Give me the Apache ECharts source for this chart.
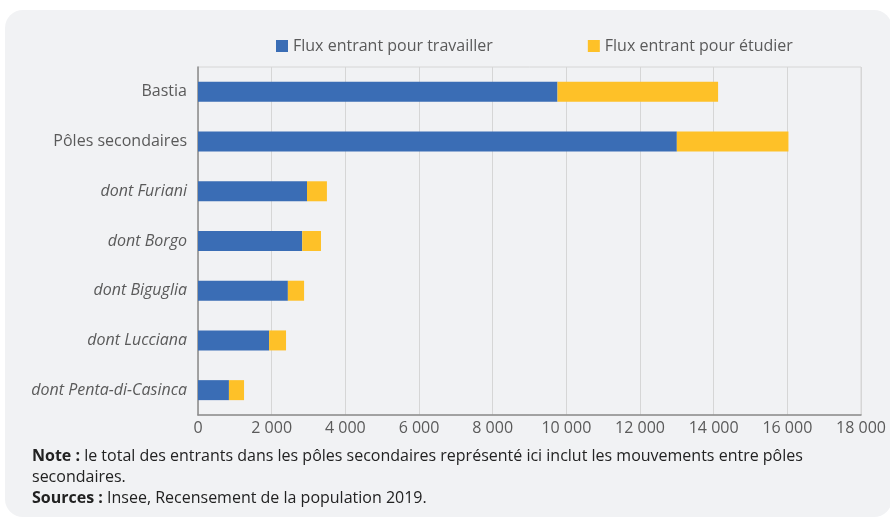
<!DOCTYPE html>
<html><head><meta charset="utf-8">
<script src="https://cdn.jsdelivr.net/npm/echarts@6/dist/echarts.min.js"></script>
<style>
html,body{margin:0;padding:0;background:#fff;width:890px;height:520px;overflow:hidden;}
#card{position:absolute;left:5px;top:10px;width:887px;height:507px;background:#f1f2f4;border-radius:18px;}
#c{position:absolute;left:0;top:0;width:890px;height:520px;}
</style></head>
<body><div id="card"></div><div id="c"></div>
<script>
const categories = ['Bastia','Pôles secondaires','dont Furiani','dont Borgo','dont Biguglia','dont Lucciana','dont Penta-di-Casinca'];
const travailler = [9760, 13000, 2960, 2830, 2440, 1930, 840];
const etudier = [4360, 3030, 540, 510, 440, 460, 410];
const seriesNames = ['Flux entrant pour travailler','Flux entrant pour étudier'];
const xTicks = [0,2000,4000,6000,8000,10000,12000,14000,16000,18000];

const fmt = v => String(v).replace(/\B(?=(\d{3})+(?!\d))/g, ' ');
const font = '"Open Sans", sans-serif';
const chart = echarts.init(document.getElementById('c'));
chart.setOption({
  backgroundColor: 'transparent',
  textStyle: {fontFamily: font},
  legend: {
    top: 33, left: 271, itemWidth: 12, itemHeight: 12, itemGap: 95,
    icon: 'rect',
    textStyle: {color: '#5a5a5a', fontSize: 16, fontFamily: font},
    data: seriesNames
  },
  grid: {left: 198, right: 29, top: 67, bottom: 105, show: true, borderColor: '#d6d6d6', borderWidth: 1, backgroundColor: 'transparent'},
  xAxis: {
    type: 'value', min: xTicks[0], max: xTicks[xTicks.length-1], interval: 2000,
    axisLine: {show: true, lineStyle: {color: '#8c8c8c', width: 1.5}},
    axisTick: {show: false},
    splitLine: {show: true, lineStyle: {color: '#d6d6d6', width: 1}},
    axisLabel: {color: '#5a5a5a', fontSize: 16, fontFamily: font, margin: 5, formatter: v => fmt(v)}
  },
  yAxis: {
    type: 'category', inverse: true,
    data: categories.map(c => c.startsWith('dont') ? {value: c, textStyle: {fontStyle: 'italic'}} : c),
    axisLine: {show: true, lineStyle: {color: '#8c8c8c', width: 1.5}},
    axisTick: {show: false},
    axisLabel: {color: '#5a5a5a', fontSize: 16, fontFamily: font, margin: 11}
  },
  series: [
    {name: seriesNames[0], type: 'bar', stack: 't', data: travailler, barWidth: 20, itemStyle: {color: '#3a6db5'}},
    {name: seriesNames[1], type: 'bar', stack: 't', data: etudier, barWidth: 20, itemStyle: {color: '#fec128'}}
  ],
  graphic: [
    {type: 'text', left: 32, top: 446, style: {
      text: '{b|Note :} le total des entrants dans les pôles secondaires représenté ici inclut les mouvements entre pôles\nsecondaires.\n{b|Sources :} Insee, Recensement de la population 2019.',
      fontFamily: font, fontSize: 16, fill: '#222', lineHeight: 21,
      rich: {b: {fontWeight: 'bold', fontFamily: font, fontSize: 16, fill: '#222', lineHeight: 21}}
    }}
  ]
});
</script></body></html>
